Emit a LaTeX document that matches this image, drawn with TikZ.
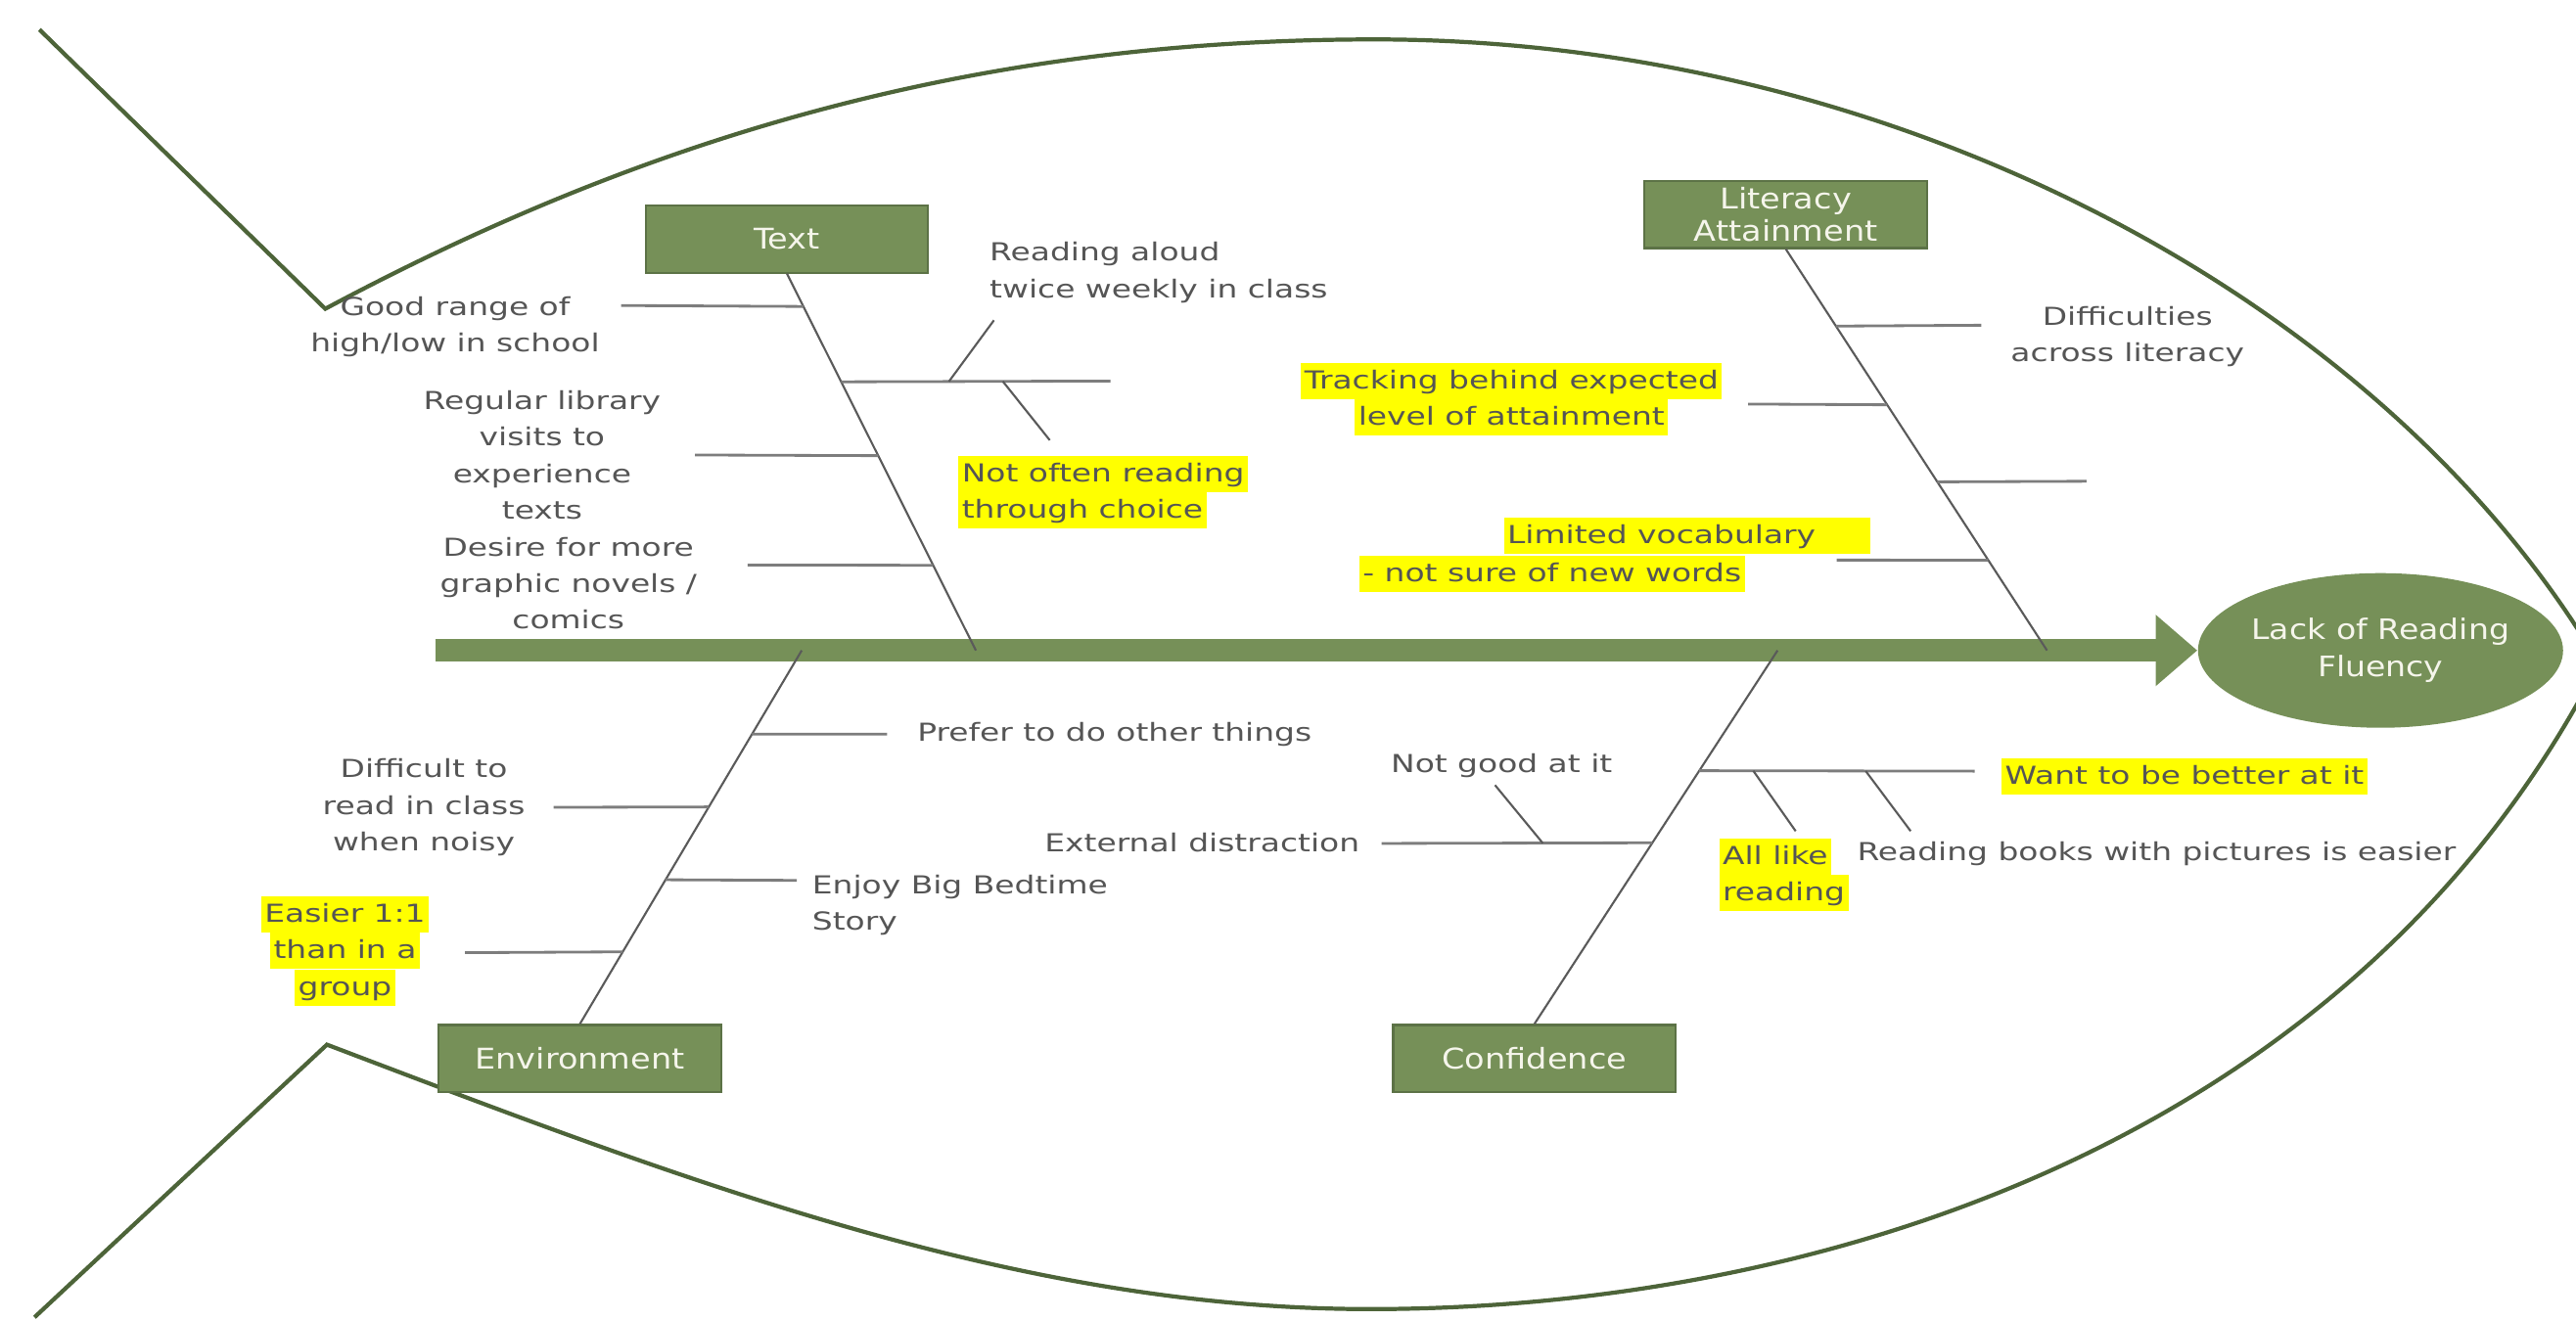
\documentclass[tikz,border=0pt]{standalone}
\usepackage{fontspec}
\usepackage{xcolor}
\usepackage{tikz}
\usetikzlibrary{shapes, arrows.meta, positioning, calc}

\newfontfamily\labelfont{DejaVu Sans}[FakeStretch=1.3]
\newfontfamily\boxfont{DejaVu Sans}[FakeStretch=1.15]

\definecolor{fishgreen}{RGB}{118,144,88}
\definecolor{fishline}{RGB}{77,100,57}
\definecolor{boxedge}{RGB}{92,114,70}
\definecolor{labelgray}{RGB}{85,85,85}
\definecolor{bonegray}{RGB}{90,90,90}
\definecolor{ribgray}{RGB}{125,125,125}
\definecolor{hlyellow}{RGB}{255,255,0}
\definecolor{boxtext}{RGB}{245,245,235}

\newcommand{\hlt}[1]{{\setlength{\fboxsep}{0pt}\colorbox{hlyellow}{\rule[-3pt]{0pt}{10.55pt}\kern1pt#1\kern1pt}}}

\tikzset{
  cat/.style={rectangle, draw=boxedge, line width=0.6pt, fill=fishgreen, text=boxtext,
    minimum width=2.887cm, minimum height=0.688cm, inner xsep=2pt, inner ysep=0.5pt,
    align=center, font=\boxfont\fontsize{8.3}{9.6}\selectfont},
  effect/.style={ellipse, fill=fishgreen, text=boxtext, minimum width=3.49cm,
    minimum height=1.58cm, inner sep=0pt, align=center, font=\boxfont\fontsize{8.2}{10.9}\selectfont},
  cause/.style={text=labelgray, align=center, inner sep=0pt, font=\labelfont\fontsize{7.2}{10.6}\selectfont},
  fishedge/.style={draw=fishline, line width=1.2pt},
  spine/.style={draw=fishgreen, line width=6.4pt, -{Triangle[width=20pt, length=12.1pt]}},
  bone/.style={draw=bonegray, line width=0.6pt},
  rib/.style={draw=ribgray, line width=0.8pt},
  twig/.style={draw=bonegray, line width=0.6pt}
}

\begin{document}
\begin{tikzpicture}[x=0.016786cm, y=-0.016786cm]
  \path[use as bounding box, clip] (0,0) rectangle (1568,804);

  % Fish outline
  \draw[fishedge] (24,18) -- (198,188) .. controls (400,80) and (600,24) .. (837,24)
    .. controls (1150,24) and (1450,180) .. (1582,404);
  \draw[fishedge] (21,802) -- (199,636) .. controls (420,720) and (620,797) .. (834,797)
    .. controls (1100,797) and (1430,700) .. (1582,404);

  % Head and spine
  \node[effect] (fluency) at (1449,396) {Lack of Reading\\Fluency};
  \coordinate (tail) at (265,396);
  \draw[spine] (tail) -- (fluency.west);

  % Categories
  \node[cat] (text) at (479,145.5) {Text};
  \node[cat] (literacy) at (1087,130.5) {Literacy\\Attainment};
  \node[cat] (environment) at (353,644.5) {Environment};
  \node[cat] (confidence) at (934,644.5) {Confidence};

  % Bones
  \coordinate (tS) at (594,396);
  \coordinate (lS) at (1246,396);
  \coordinate (eS) at (488,396);
  \coordinate (cS) at (1082,396);
  \draw[bone] (text.south) -- (tS);
  \draw[bone] (literacy.south) -- (lS);
  \draw[bone] (environment.north) -- (eS);
  \draw[bone] (confidence.north) -- (cS);

  % Causes
  \node[cause] (range) at (277,199) {Good range of\\high/low in school};
  \node[cause, anchor=west, align=left] (aloud) at (602,166) {Reading aloud\\twice weekly in class};
  \node[cause, anchor=west, align=left] (choice) at (583,299.5) {\hlt{Not often reading}\\\hlt{through choice}};
  \node[cause] (library) at (330,277) {Regular library\\visits to\\experience\\texts};
  \node[cause] (graphic) at (346,355) {Desire for more\\graphic novels /\\comics};

  \node[cause] (across) at (1295,205) {Difficulties\\across literacy};
  \node[cause] (tracking) at (920,243) {\hlt{Tracking behind expected}\\\hlt{level of attainment}};
  \node[cause, anchor=west] (vocab) at (915,326) {\hlt{Limited vocabulary\hspace{15pt}}};
  \node[cause, anchor=west] (newwords) at (827,349.5) {\hlt{- not sure of new words}};

  \node[cause, anchor=west] (prefer) at (558,447) {Prefer to do other things};
  \node[cause] (noisy) at (258,491.5) {Difficult to\\read in class\\when noisy};
  \node[cause, anchor=west, align=left] (bedtime) at (494,551) {Enjoy Big Bedtime\\Story};
  \node[cause] (easier) at (210,579) {\hlt{Easier 1:1}\\\hlt{than in a}\\\hlt{group}};

  \node[cause, anchor=west] (better) at (1218,472.5) {\hlt{Want to be better at it}};
  \node[cause, anchor=west, align=left] (alllike) at (1046,532.5) {\hlt{All like}\\\hlt{reading}};
  \node[cause, anchor=west] (pictures) at (1130,520) {Reading books with pictures is easier};
  \node[cause, anchor=east] (distraction) at (828,513) {External distraction};
  \node[cause] (notgood) at (914,466) {Not good at it};

  % Rib ends
  \coordinate (e-range) at (378,186);
  \coordinate (e-branch) at (676,232);
  \coordinate (e-library) at (423,277);
  \coordinate (e-graphic) at (455,344);
  \coordinate (e-across) at (1206,198);
  \coordinate (e-tracking) at (1064,246);
  \coordinate (e-blank) at (1270,293);
  \coordinate (e-vocab) at (1118,341);
  \coordinate (e-prefer) at (540,447);
  \coordinate (e-noisy) at (337,491.5);
  \coordinate (e-bedtime) at (485,536);
  \coordinate (e-easier) at (283,580);
  \coordinate (e-better) at (1202,469.5);
  \coordinate (e-distraction) at (841,513.5);

  \coordinate (b-branch) at ($(text.south)!0.287!(tS)$);
  \coordinate (b-better) at ($(confidence.north)!0.678!(cS)$);
  \coordinate (b-distraction) at ($(confidence.north)!0.485!(cS)$);

  % Ribs
  \draw[rib] ($(text.south)!0.087!(tS)$) -- (e-range);
  \draw[rib] (b-branch) -- (e-branch);
  \draw[rib] ($(text.south)!0.483!(tS)$) -- (e-library);
  \draw[rib] ($(text.south)!0.774!(tS)$) -- (e-graphic);
  \draw[rib] ($(literacy.south)!0.192!(lS)$) -- (e-across);
  \draw[rib] ($(literacy.south)!0.388!(lS)$) -- (e-tracking);
  \draw[rib] ($(literacy.south)!0.580!(lS)$) -- (e-blank);
  \draw[rib] ($(literacy.south)!0.775!(lS)$) -- (e-vocab);
  \draw[rib] ($(environment.north)!0.776!(eS)$) -- (e-prefer);
  \draw[rib] ($(environment.north)!0.581!(eS)$) -- (e-noisy);
  \draw[rib] ($(environment.north)!0.386!(eS)$) -- (e-bedtime);
  \draw[rib] ($(environment.north)!0.193!(eS)$) -- (e-easier);
  \draw[rib] (b-better) -- (e-better);
  \draw[rib] (b-distraction) -- (e-distraction);

  % Sub causes
  \coordinate (e-aloud) at (605,195);
  \coordinate (e-choice) at (639,268);
  \coordinate (e-alllike) at (1093,506);
  \coordinate (e-pictures) at (1163,506);
  \coordinate (e-notgood) at (910,478);
  \draw[twig] ($(b-branch)!0.40!(e-branch)$) -- (e-aloud);
  \draw[twig] ($(b-branch)!0.60!(e-branch)$) -- (e-choice);
  \draw[twig] ($(b-better)!0.196!(e-better)$) -- (e-alllike);
  \draw[twig] ($(b-better)!0.604!(e-better)$) -- (e-pictures);
  \draw[twig] ($(b-distraction)!0.405!(e-distraction)$) -- (e-notgood);
\end{tikzpicture}
\end{document}
